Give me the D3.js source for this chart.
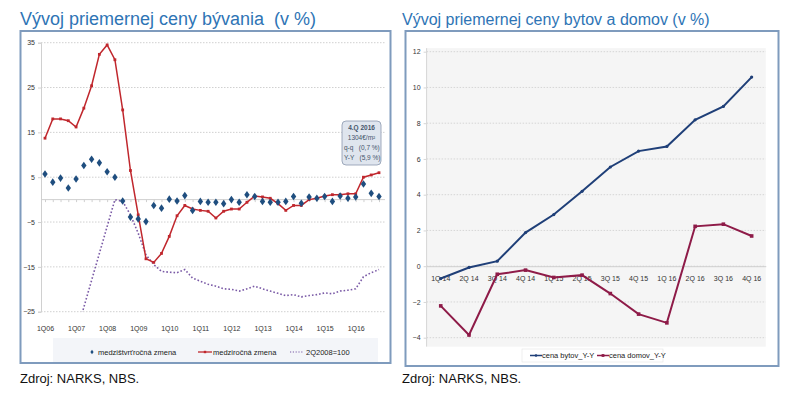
<!DOCTYPE html>
<html>
<head>
<meta charset="utf-8">
<script src="https://cdnjs.cloudflare.com/ajax/libs/d3/7.8.5/d3.min.js"></script>
<style>
  body { margin: 0; background: #fff; }
  text { font-family: "Liberation Sans", Arial, sans-serif; }
</style>
</head>
<body>
<script>
// ---------- data: left chart (quarterly, 1Q06 - 4Q16) ----------
var kvartaly = ["1Q06","2Q06","3Q06","4Q06","1Q07","2Q07","3Q07","4Q07",
  "1Q08","2Q08","3Q08","4Q08","1Q09","2Q09","3Q09","4Q09",
  "1Q10","2Q10","3Q10","4Q10","1Q11","2Q11","3Q11","4Q11",
  "1Q12","2Q12","3Q12","4Q12","1Q13","2Q13","3Q13","4Q13",
  "1Q14","2Q14","3Q14","4Q14","1Q15","2Q15","3Q15","4Q15",
  "1Q16","2Q16","3Q16","4Q16"];
var rokyTicks = ["1Q06","1Q07","1Q08","1Q09","1Q10","1Q11","1Q12","1Q13","1Q14","1Q15","1Q16"];
var yTicksL = [-25, -15, -5, 5, 15, 25, 35];

var medzistvrtrocna = [5.7, 3.9, 4.8, 2.6, 4.6, 7.6, 9.0, 8.2, 6.2, 5.0, -0.3, -3.9,
  -4.3, -4.9, -1.3, -1.9, 0.1, -0.3, 0.9, -2.4, -0.4, -0.6, -0.6, -0.9,
  0.0, -0.6, 1.1, 0.7, -0.4, -0.6, -0.6, -0.4, 0.7, -0.8, 0.6, 0.3,
  0.7, -0.4, 0.8, 0.3, 0.6, 3.5, 1.4, 0.7];
var medzirocna = [13.7, 18.0, 18.0, 17.6, 16.2, 20.4, 25.4, 32.4, 34.5, 31.2, 20.0, 6.5,
  -3.4, -13.2, -14.0, -12.0, -8.2, -3.6, -1.3, -2.1, -2.4, -2.6, -4.1, -2.6,
  -2.1, -2.1, -0.6, 0.8, 0.6, 0.3, -0.9, -2.4, -1.3, -1.3, 0.0, 0.3,
  0.8, 1.1, 1.1, 1.3, 1.3, 5.0, 5.5, 6.0];
var index2Q2008 = [null, null, null, null, -30, -24, -18, -12, -6, 0, -0.4, -3.4,
  -7.5, -12.3, -14.5, -16.0, -16.2, -16.3, -15.6, -17.5, -18.2, -18.9, -19.3, -19.9,
  -20.0, -20.4, -19.9, -19.3, -19.9, -20.4, -20.9, -21.4, -21.2, -21.7, -21.4, -21.2,
  -20.8, -21.0, -20.4, -20.2, -19.9, -17.2, -16.3, -15.6];

// ---------- data: right chart ----------
var kvartaly2 = ["1Q 14","2Q 14","3Q 14","4Q 14","1Q 15","2Q 15","3Q 15","4Q 15",
  "1Q 16","2Q 16","3Q 16","4Q 16"];
var yTicksR = [-4, -2, 0, 2, 4, 6, 8, 10, 12];
var cenaBytov = [-0.69, -0.07, 0.28, 1.88, 2.89, 4.19, 5.55, 6.44, 6.70, 8.19, 8.94, 10.58];
var cenaDomov = [-2.22, -3.85, -0.45, -0.22, -0.63, -0.50, -1.53, -2.68, -3.17, 2.23, 2.35, 1.69];

var svg = d3.select("body").append("svg")
  .attr("width", 800)
  .attr("height", 394);

var modra = "#2e74b5";

// ---------- left chart ----------
function lavyGraf() {
  var x = d3.scalePoint().domain(kvartaly).range([45, 379]);
  var y = d3.scaleLinear().domain([-25, 35]).range([311.7, 42.7]);
  var g = svg.append("g");

  // ramik
  g.append("rect")
    .attr("x", 20.5).attr("y", 31).attr("width", 370).attr("height", 332)
    .attr("fill", "#fff").attr("stroke", "#7f9bbd").attr("stroke-width", 2);

  g.append("text")
    .attr("x", 20).attr("y", 25)
    .attr("fill", modra).style("font-size", "18px").style("white-space", "pre")
    .text("Vývoj priemernej ceny bývania  (v %)");

  // mriezka
  g.selectAll(".gridL").data(yTicksL).enter().append("line")
    .attr("x1", 41).attr("x2", 385)
    .attr("y1", function(d) { return y(d); }).attr("y2", function(d) { return y(d); })
    .attr("stroke", "#d0d0d0").attr("stroke-width", 1).attr("stroke-dasharray", "1.5,1.5");

  // os y
  var yAxis = d3.axisLeft(y).tickValues(yTicksL).tickSize(3).tickPadding(3);
  var ya = g.append("g").attr("transform", "translate(41,0)").call(yAxis);
  ya.select(".domain").attr("stroke", "#d0d0d0");
  ya.selectAll("line").attr("stroke", "#d0d0d0");
  ya.selectAll("text").attr("fill", "#333").style("font-size", "7px");

  // os x na nule, ticky kazdy kvartal
  var xa = g.append("g").attr("transform", "translate(0," + y(0) + ")")
    .call(d3.axisBottom(x).tickSize(2.5).tickFormat(""));
  xa.select(".domain").attr("stroke", "#cfcfcf").attr("d", "M41,0H385");
  xa.selectAll("line").attr("stroke", "#cfcfcf");

  // popisky rokov dole
  var xl = g.append("g").attr("transform", "translate(0," + (y(-25) + 11) + ")")
    .call(d3.axisBottom(x).tickValues(rokyTicks).tickSize(0));
  xl.select(".domain").remove();
  xl.selectAll("text").attr("fill", "#333").style("font-size", "7px");

  // fialova bodkovana ciara, orezana na -25
  g.append("clipPath").attr("id", "orez")
    .append("rect").attr("x", 41).attr("y", y(35) - 5).attr("width", 345).attr("height", y(-25) - y(35) + 5);
  var ciaraIdx = d3.line()
    .defined(function(d) { return d != null; })
    .x(function(d, i) { return x(kvartaly[i]); })
    .y(function(d) { return y(d); });
  g.append("path").datum(index2Q2008)
    .attr("clip-path", "url(#orez)")
    .attr("fill", "none").attr("stroke", "#7a5aa6").attr("stroke-width", 1.6)
    .attr("stroke-dasharray", "1.6,2")
    .attr("d", ciaraIdx);

  // cervena ciara medzirocna zmena
  var ciara = d3.line()
    .x(function(d, i) { return x(kvartaly[i]); })
    .y(function(d) { return y(d); });
  g.append("path").datum(medzirocna)
    .attr("fill", "none").attr("stroke", "#c0272d").attr("stroke-width", 1.5)
    .attr("d", ciara);
  g.selectAll(".bodR").data(medzirocna).enter().append("rect")
    .attr("x", function(d, i) { return x(kvartaly[i]) - 1.4; })
    .attr("y", function(d) { return y(d) - 1.4; })
    .attr("width", 2.8).attr("height", 2.8)
    .attr("fill", "#c0272d");

  // kosostvorce medzistvrtrocna zmena
  g.selectAll(".kos").data(medzistvrtrocna).enter().append("path")
    .attr("transform", function(d, i) { return "translate(" + x(kvartaly[i]) + "," + y(d) + ")"; })
    .attr("d", "M0,-3.8L2.7,0L0,3.8L-2.7,0Z")
    .attr("fill", "#1f4e7f");

  // popisok 4.Q 2016
  var box = g.append("g").attr("transform", "translate(342,121)");
  box.append("rect").attr("width", 39).attr("height", 44).attr("rx", 4)
    .attr("fill", "#dfe5ee").attr("stroke", "#8a98ad").attr("stroke-width", 0.8);
  box.append("text").attr("x", 19.5).attr("y", 9).attr("text-anchor", "middle")
    .attr("fill", "#44546a").style("font-size", "6.5px").style("font-weight", "bold").text("4.Q 2016");
  box.append("text").attr("x", 19.5).attr("y", 19).attr("text-anchor", "middle")
    .attr("fill", "#44546a").style("font-size", "6.5px").text("1304€/m²");
  box.append("text").attr("x", 2).attr("y", 29).style("white-space", "pre")
    .attr("fill", "#44546a").style("font-size", "6.5px").text("q-q   (0,7 %)");
  box.append("text").attr("x", 2).attr("y", 39).style("white-space", "pre")
    .attr("fill", "#44546a").style("font-size", "6.5px").text("Y-Y   (5,9 %)");

  // legenda
  var leg = g.append("g");
  leg.append("rect").attr("x", 53).attr("y", 338).attr("width", 325).attr("height", 24)
    .attr("fill", "#f3f5f9");
  leg.append("path").attr("transform", "translate(92,352)")
    .attr("d", "M0,-2.2L1.6,0L0,2.2L-1.6,0Z").attr("fill", "#1f4e7f");
  leg.append("text").attr("x", 98).attr("y", 354.5).style("font-size", "7.5px").attr("fill", "#222")
    .text("medzištvrťročná zmena");
  leg.append("line").attr("x1", 198).attr("x2", 212).attr("y1", 352).attr("y2", 352)
    .attr("stroke", "#c0272d").attr("stroke-width", 1.3);
  leg.append("rect").attr("x", 203.8).attr("y", 350.8).attr("width", 2.4).attr("height", 2.4).attr("fill", "#c0272d");
  leg.append("text").attr("x", 213).attr("y", 354.5).style("font-size", "7.5px").attr("fill", "#222")
    .text("medziročná zmena");
  leg.append("line").attr("x1", 290).attr("x2", 304).attr("y1", 352).attr("y2", 352)
    .attr("stroke", "#7a5aa6").attr("stroke-width", 1.2).attr("stroke-dasharray", "1.2,1.6");
  leg.append("text").attr("x", 306).attr("y", 354.5).style("font-size", "7.5px").attr("fill", "#222")
    .text("2Q2008=100");

  svg.append("text").attr("x", 20).attr("y", 383)
    .style("font-size", "13px").attr("fill", "#111").text("Zdroj: NARKS, NBS.");
}

// ---------- right chart ----------
function pravyGraf() {
  var x = d3.scaleBand().domain(kvartaly2).range([426.6, 765.8]);
  var y = d3.scaleLinear().domain([-4, 12]).range([337.7, 51.7]);
  var g = svg.append("g");
  var stred = function(d) { return x(d) + x.bandwidth() / 2; };

  g.append("rect")
    .attr("x", 405.5).attr("y", 31).attr("width", 373).attr("height", 335)
    .attr("fill", "#fff").attr("stroke", "#7f9bbd").attr("stroke-width", 2);

  g.append("text")
    .attr("x", 402).attr("y", 25)
    .attr("fill", modra).style("font-size", "16px")
    .text("Vývoj priemernej ceny bytov a domov (v %)");

  // sive pozadie grafu
  g.append("rect")
    .attr("x", 426.6).attr("y", y(12.2)).attr("width", 765.8 - 426.6).attr("height", y(-4.5) - y(12.2))
    .attr("fill", "#f5f5f5");

  g.selectAll(".gridR").data(yTicksR).enter().append("line")
    .attr("x1", 426.6).attr("x2", 765.8)
    .attr("y1", function(d) { return y(d); }).attr("y2", function(d) { return y(d); })
    .attr("stroke", "#d6d6d6").attr("stroke-width", 1).attr("stroke-dasharray", "1.5,1.5");

  var ya = g.append("g").attr("transform", "translate(426.6,0)")
    .call(d3.axisLeft(y).tickValues(yTicksR).tickSize(3).tickPadding(3));
  ya.select(".domain").attr("stroke", "#d6d6d6").attr("d", "M0," + y(12.2) + "V" + y(-4.5));
  ya.selectAll("line").attr("stroke", "#d6d6d6");
  ya.selectAll("text").attr("fill", "#333").style("font-size", "7px");

  var xa = g.append("g").attr("transform", "translate(0," + y(0) + ")")
    .call(d3.axisBottom(x).tickSize(0).tickPadding(10));
  xa.select(".domain").attr("stroke", "#cfcfcf");
  xa.selectAll("text").attr("fill", "#333").style("font-size", "7px");

  var ciara = d3.line()
    .x(function(d, i) { return stred(kvartaly2[i]); })
    .y(function(d) { return y(d); });

  g.append("path").datum(cenaBytov)
    .attr("fill", "none").attr("stroke", "#1f3f78").attr("stroke-width", 2)
    .attr("d", ciara);
  g.selectAll(".bodB").data(cenaBytov).enter().append("circle")
    .attr("cx", function(d, i) { return stred(kvartaly2[i]); })
    .attr("cy", function(d) { return y(d); })
    .attr("r", 1.6).attr("fill", "#1f3f78");

  g.append("path").datum(cenaDomov)
    .attr("fill", "none").attr("stroke", "#8e1b48").attr("stroke-width", 2)
    .attr("d", ciara);
  g.selectAll(".bodD").data(cenaDomov).enter().append("rect")
    .attr("x", function(d, i) { return stred(kvartaly2[i]) - 1.8; })
    .attr("y", function(d) { return y(d) - 1.8; })
    .attr("width", 3.6).attr("height", 3.6).attr("fill", "#8e1b48");

  // legenda
  var leg = g.append("g");
  leg.append("rect").attr("x", 522).attr("y", 349).attr("width", 141).attr("height", 13)
    .attr("fill", "#fff").attr("stroke", "#e4e4e4").attr("stroke-width", 0.6);
  leg.append("line").attr("x1", 530).attr("x2", 542).attr("y1", 355.5).attr("y2", 355.5)
    .attr("stroke", "#1f3f78").attr("stroke-width", 1.5);
  leg.append("circle").attr("cx", 536).attr("cy", 355.5).attr("r", 1.3).attr("fill", "#1f3f78");
  leg.append("text").attr("x", 542).attr("y", 358).style("font-size", "7.5px").attr("fill", "#222")
    .text("cena bytov_Y-Y");
  leg.append("line").attr("x1", 597).attr("x2", 609).attr("y1", 355.5).attr("y2", 355.5)
    .attr("stroke", "#8e1b48").attr("stroke-width", 1.5);
  leg.append("rect").attr("x", 601.6).attr("y", 354.1).attr("width", 2.8).attr("height", 2.8).attr("fill", "#8e1b48");
  leg.append("text").attr("x", 609).attr("y", 358).style("font-size", "7.5px").attr("fill", "#222")
    .text("cena domov_Y-Y");

  svg.append("text").attr("x", 402).attr("y", 383)
    .style("font-size", "13px").attr("fill", "#111").text("Zdroj: NARKS, NBS.");
}

lavyGraf();
pravyGraf();
</script>
</body>
</html>
